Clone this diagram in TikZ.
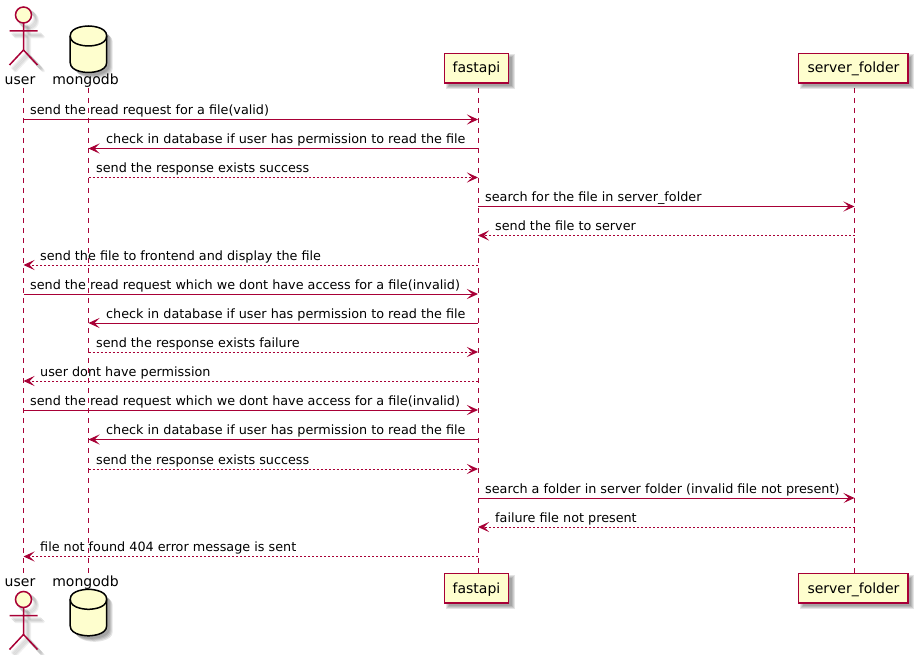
\documentclass[tikz,border=0pt]{standalone}
\usepackage{fontspec}
\setmainfont{DejaVu Sans}
\usetikzlibrary{arrows.meta}
\definecolor{lineC}{HTML}{A80036}
\definecolor{fillC}{HTML}{FEFECE}
\tikzset{
  x=1pt,y=-1pt,
  life/.style={draw=lineC,line width=1pt,dash pattern=on 5pt off 5pt},
  req/.style={draw=lineC,line width=1pt,-{Stealth[length=11pt,width=10pt,inset=5pt,color=lineC]}},
  resp/.style={req,dash pattern=on 2pt off 2pt},
  lab/.style={anchor=base west,inner sep=0pt,font=\fontsize{12.78}{15}\selectfont,text=black},
  partname/.style={anchor=base,inner sep=0pt,font=\fontsize{14}{16}\selectfont,text=black},
  partbox/.style={draw=lineC,fill=fillC,line width=1.5pt},
  actorline/.style={draw=lineC,line width=1.5pt},
  dbline/.style={draw=black,line width=1.5pt},
  sh/.style={fill=black,opacity=0.10,draw=none},
  shl/.style={draw=black,opacity=0.06,line width=3pt,line cap=round},
}
\newcommand{\msgline}[7]{% id, from, to, y, text x, text, style
  \draw[#7] (#2 |- 0,#4) -- (#3 |- 0,#4);
  \node[lab] (#1) at (#5,#4-5) {#6};
}
\newcommand{\softrect}[4]{%
  \foreach \g in {0,1,2,3}{
    \fill[sh] (#1+1+\g,#2+1+\g) rectangle (#3+6-\g,#4+6-\g);
  }
}
\newcommand{\actorfig}[2]{% x, y of head centre
  \begin{scope}[shift={(#1,#2)}]
    \foreach \d in {3,4,5,6}{
      \begin{scope}[shift={(\d,\d)}]
        \draw[shl] (0,0) circle (8);
        \draw[shl] (0,8) -- (0,35) (-14,16) -- (14,16) (0,35) -- (-14,50) (0,35) -- (14,50);
      \end{scope}
    }
    \draw[actorline,fill=fillC] (0,0) circle (8);
    \draw[actorline] (0,8) -- (0,35) (-14,16) -- (14,16) (0,35) -- (-14,50) (0,35) -- (14,50);
  \end{scope}
}
\newcommand{\dbfig}[2]{% left x, top y
  \begin{scope}[shift={(#1,#2)}]
    \foreach \d in {3,4,5,6}{
      \fill[sh,shift={(\d,\d)}] (0,10) .. controls (0,0) and (18.25,0) .. (18.25,0) .. controls (18.25,0) and (36.5,0) .. (36.5,10) -- (36.5,36.5) .. controls (36.5,46.5) and (18.25,46.5) .. (18.25,46.5) .. controls (18.25,46.5) and (0,46.5) .. (0,36.5) -- cycle;
    }
    \draw[dbline,fill=fillC] (0,10) .. controls (0,0) and (18.25,0) .. (18.25,0) .. controls (18.25,0) and (36.5,0) .. (36.5,10) -- (36.5,36.5) .. controls (36.5,46.5) and (18.25,46.5) .. (18.25,46.5) .. controls (18.25,46.5) and (0,46.5) .. (0,36.5) -- cycle;
    \draw[dbline] (0,10) .. controls (0,20) and (18.25,20) .. (18.25,20) .. controls (18.25,20) and (36.5,20) .. (36.5,10);
  \end{scope}
}
\begin{document}
\begin{tikzpicture}
\useasboundingbox (0,0) rectangle (920,655);
\fill[white] (0,0) rectangle (920,655);

\coordinate (lu) at (23.5,88);
\coordinate (lm) at (88.5,88);
\coordinate (lf) at (478,88);
\coordinate (ls) at (854.5,88);
\coordinate (lub) at (23.5,573);
\coordinate (lmb) at (88.5,573);
\coordinate (lfb) at (478,573);
\coordinate (lsb) at (854.5,573);

\draw[life] (lu) -- (lub);
\draw[life] (lm) -- (lmb);
\draw[life] (lf) -- (lfb);
\draw[life] (ls) -- (lsb);

\actorfig{23.5}{15}
\actorfig{23.5}{599.5}
\dbfig{70.2}{26}
\dbfig{70.2}{589.3}

\node[partname] (usert) at (20,85) {user};
\node[partname] (userb) at (20,586) {user};
\node[partname] (mongot) at (85.5,85) {mongodb};
\node[partname] (mongob) at (85.5,586) {mongodb};

\softrect{444.5}{53.5}{508.5}{83}
\softrect{798.5}{53.5}{908}{83}
\softrect{444.5}{573.5}{508.5}{603}
\softrect{798.5}{573.5}{908}{603}
\draw[partbox] (444.5,53.5) rectangle (508.5,83);
\draw[partbox] (798.5,53.5) rectangle (908,83);
\draw[partbox] (444.5,573.5) rectangle (508.5,603);
\draw[partbox] (798.5,573.5) rectangle (908,603);
\node[partname] (fastt) at (476.5,73) {fastapi};
\node[partname] (fastb) at (476.5,593) {fastapi};
\node[partname] (servert) at (853.5,73) {server\_folder};
\node[partname] (serverb) at (853.5,593) {server\_folder};

\msgline{m1}{lu}{lf}{119.5}{30}{send the read request for a file(valid)}{req}
\msgline{m2}{lf}{lm}{148.5}{106}{check in database if user has permission to read the file}{req}
\msgline{m3}{lm}{lf}{177.5}{96}{send the response exists success}{resp}
\msgline{m4}{lf}{ls}{206.5}{485}{search for the file in server\_folder}{req}
\msgline{m5}{ls}{lf}{235.5}{495}{send the file to server}{resp}
\msgline{m6}{lf}{lu}{265}{40}{send the file to frontend and display the file}{resp}
\msgline{m7}{lu}{lf}{294}{30}{send the read request which we dont have access for a file(invalid)}{req}
\msgline{m8}{lf}{lm}{323}{106}{check in database if user has permission to read the file}{req}
\msgline{m9}{lm}{lf}{352}{96}{send the response exists failure}{resp}
\msgline{m10}{lf}{lu}{381}{40}{user dont have permission}{resp}
\msgline{m11}{lu}{lf}{410}{30}{send the read request which we dont have access for a file(invalid)}{req}
\msgline{m12}{lf}{lm}{439.5}{106}{check in database if user has permission to read the file}{req}
\msgline{m13}{lm}{lf}{469}{96}{send the response exists success}{resp}
\msgline{m14}{lf}{ls}{498}{485}{search a folder in server folder (invalid file not present)}{req}
\msgline{m15}{ls}{lf}{527}{495}{failure file not present}{resp}
\msgline{m16}{lf}{lu}{556.5}{40}{file not found 404 error message is sent}{resp}
\end{tikzpicture}
\end{document}
